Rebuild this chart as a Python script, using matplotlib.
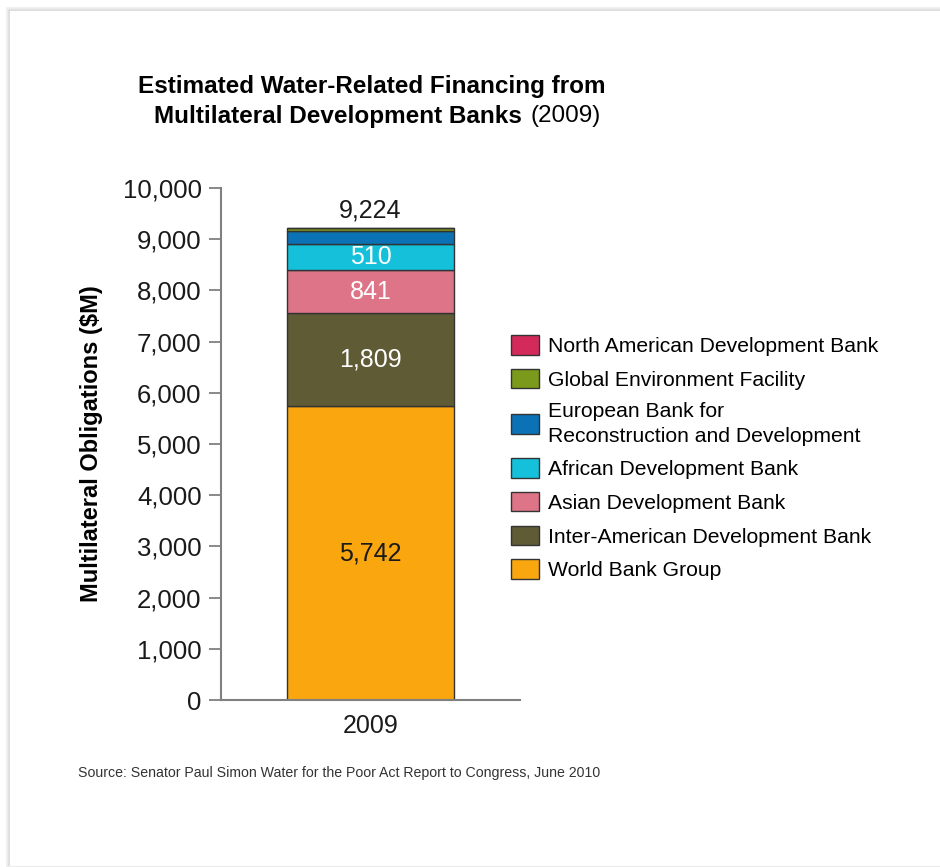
import matplotlib.pyplot as plt
from matplotlib.patches import Rectangle

plt.rcParams['font.family'] = ['Liberation Sans', 'DejaVu Sans']

years = ['2009']
banks = ['World Bank Group', 'Inter-American Development Bank', 'Asian Development Bank',
         'African Development Bank', 'European Bank for\nReconstruction and Development',
         'Global Environment Facility', 'North American Development Bank']
values = [5742, 1809, 841, 510, 255, 55, 12]
colors = ['#F9A60F', '#5F5B35', '#DE7487', '#14C0DA', '#0B72B6', '#7B9A1B', '#D42A5B']
shown = ['5,742', '1,809', '841', '510', None, None, None]
label_colors = ['#1a1a1a', 'white', 'white', 'white', None, None, None]
total_label = '9,224'
yticks = list(range(0, 10001, 1000))

W, H = 940, 867
fig = plt.figure(figsize=(W / 100, H / 100), dpi=100)

# page frame with a soft shadow
for i, c in enumerate(['#d8d8d8', '#e4e4e4', '#eeeeee']):
    fig.add_artist(Rectangle(((9 - i) / W, 0.0), 1.0, (H - 10 + i) / H, transform=fig.transFigure,
                             fill=False, edgecolor=c, linewidth=1.2, zorder=0))

ax = fig.add_axes([221 / W, 1 - 700 / H, 299 / W, 512 / H])

bottom = 0
for v, c, lab, lc, name in zip(values, colors, shown, label_colors, banks):
    ax.bar(0, v, bottom=bottom, width=1.0, color=c, edgecolor='#333333', linewidth=1.0, label=name)
    if lab:
        ax.text(0, bottom + v / 2, lab, ha='center', va='center', fontsize=18, color=lc)
    bottom += v
ax.text(0, bottom + 100, total_label, ha='center', va='bottom', fontsize=18, color='#1a1a1a')

ax.set_xlim(-0.9, 0.9)
ax.set_ylim(0, 10000)
ax.set_yticks(yticks)
ax.set_yticklabels([f'{t:,}' for t in yticks], fontsize=18.5, color='#1a1a1a')
ax.set_xticks([0])
ax.set_xticklabels(years, fontsize=18, color='#1a1a1a')
ax.tick_params(axis='x', length=0, pad=10)
ax.tick_params(axis='y', length=9, width=1.3, color='#808080', pad=5)
for s in ['top', 'right']:
    ax.spines[s].set_visible(False)
for s in ['left', 'bottom']:
    ax.spines[s].set_color('#808080')
    ax.spines[s].set_linewidth(1.5)
ax.set_ylabel('Multilateral Obligations ($M)', fontsize=17, fontweight='bold', labelpad=14)

handles, labels = ax.get_legend_handles_labels()
leg = fig.legend(handles[::-1], labels[::-1], loc='upper left', bbox_to_anchor=(492 / W, 1 - 316 / H),
                 frameon=False, fontsize=15.2, handlelength=1.33, handleheight=1.05,
                 handletextpad=0.4, labelspacing=0.6)
for t in leg.get_texts():
    t.set_linespacing(1.35)

fig.text(372 / W, 1 - 86 / H, 'Estimated Water-Related Financing from', ha='center', va='center',
         fontsize=17.5, fontweight='bold')
fig.text(522 / W, 1 - 116 / H, 'Multilateral Development Banks', ha='right', va='center',
         fontsize=17.5, fontweight='bold')
fig.text(530 / W, 1 - 116 / H, '(2009)', ha='left', va='center', fontsize=17.5)

fig.text(78 / W, 1 - 773 / H, 'Source: Senator Paul Simon Water for the Poor Act Report to Congress, June 2010',
         fontsize=10.2, color='#333333', va='center')

fig.savefig('out.png', dpi=100)
